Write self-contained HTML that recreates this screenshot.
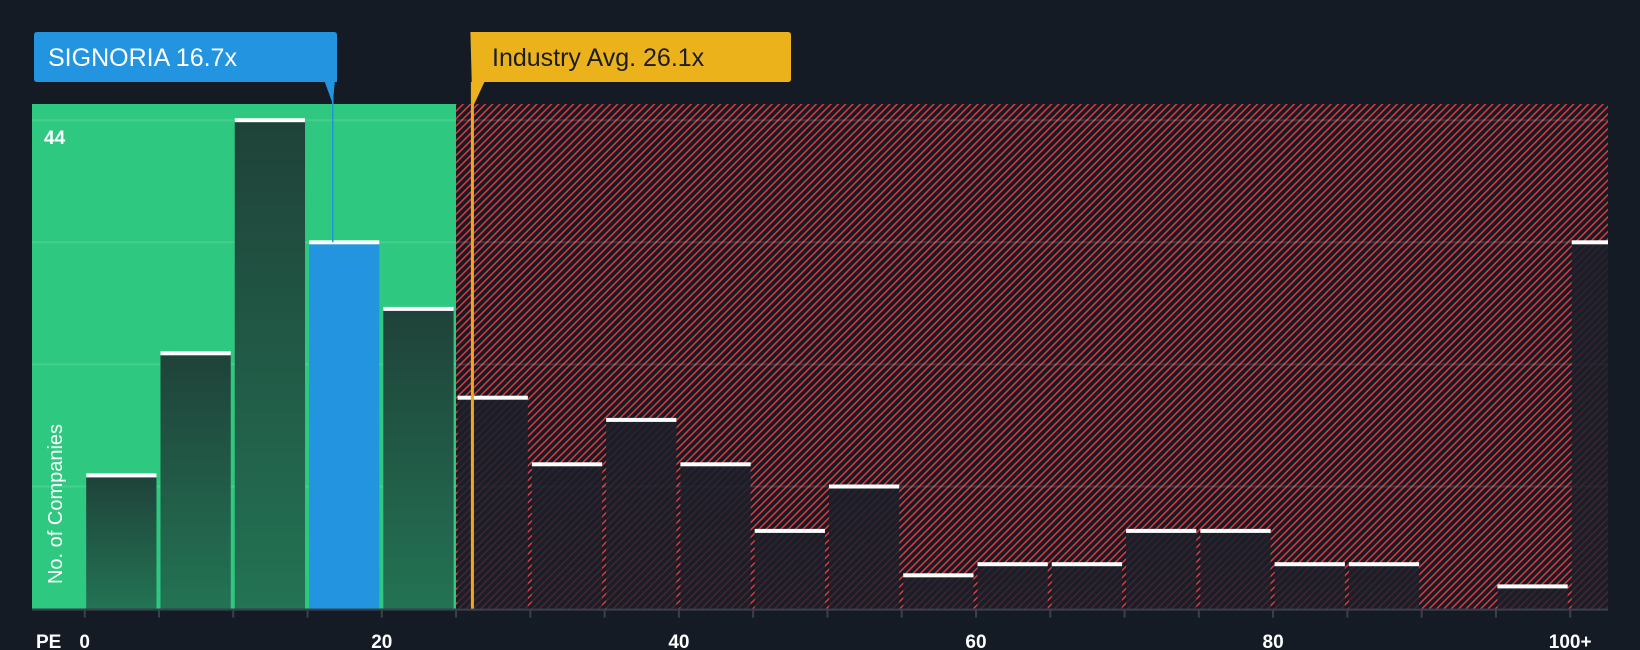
<!DOCTYPE html>
<html><head><meta charset="utf-8"><style>
html,body{margin:0;padding:0;background:#151b24;}
svg{display:block;font-family:"Liberation Sans",sans-serif;}
</style></head><body>
<svg id="chart" width="1640" height="650" viewBox="0 0 1640 650" xmlns="http://www.w3.org/2000/svg">
<defs>
<pattern id="hatch" patternUnits="userSpaceOnUse" width="5.2" height="5.2" patternTransform="rotate(45)">
<rect width="5.2" height="5.2" fill="#151b24"/>
<rect x="0" y="0" width="1.5" height="5.2" fill="#e0393e"/>
</pattern>
<linearGradient id="gbar" x1="0" y1="0" x2="0" y2="1"><stop offset="0" stop-color="#1f4239"/><stop offset="1" stop-color="#237354"/></linearGradient>
<linearGradient id="rbar" x1="0" y1="0" x2="0" y2="1"><stop offset="0" stop-color="#1b1f29" stop-opacity="0.9"/><stop offset="1" stop-color="#1b1f29" stop-opacity="0.75"/></linearGradient>
</defs>
<g id="bg"></g><g id="grid"></g><g id="bars"></g><g id="axis"></g><g id="ann"></g>
</svg>
<script>
const binStarts = [0,5,10,15,20,25,30,35,40,45,50,55,60,65,70,75,80,85,90,95,100];
const counts = [12,23,44,33,27,19,13,17,13,7,11,3,4,4,7,7,4,4,0,2,33];
const tickValues = [0,20,40,60,80,100];
const tickLabels = ["0","20","40","60","80","100+"];
const gridValues = [11,22,33,44];
const companyPE = 16.7;
const industryPE = 26.1;
const companyBin = 15;

const NS="http://www.w3.org/2000/svg";
const x0=84.7, pxPerUnit=14.855, baseY=608.6, pxPerCount=11.1;
const plotL=32, plotR=1608, plotT=104;
const X=v=>x0+v*pxPerUnit;
const Y=c=>baseY-c*pxPerCount;
function mk(tag,attrs,parent){const e=document.createElementNS(NS,tag);for(const k in attrs)e.setAttribute(k,attrs[k]);parent.appendChild(e);return e;}
const bg=document.getElementById('bg'),grid=document.getElementById('grid'),bars=document.getElementById('bars'),axis=document.getElementById('axis'),ann=document.getElementById('ann');

let r=mk('rect',{x:plotL,y:plotT,width:X(25)-plotL,height:baseY-plotT,fill:'#2ec880'},bg);


r=mk('rect',{x:X(25),y:plotT,width:plotR-X(25),height:baseY-plotT,fill:'url(#hatch)'},bg);



gridValues.forEach(g=>{const l=mk('line',{x1:plotL,x2:plotR,y1:Y(g),y2:Y(g),stroke:'rgba(255,255,255,0.12)','stroke-width':2},grid);

});

binStarts.forEach((b,i)=>{
  const c=counts[i]; const xl=X(b)+1.5, w=(b===100?plotR-X(b)-1.5:pxPerUnit*5-4);
  if(c<=0)return;
  let fill=b<25?'url(#gbar)':'url(#rbar)';
  if(b===companyBin)fill='#2394e0';
  const rect=mk('rect',{x:xl,y:Y(c),width:w,height:baseY-Y(c),fill:fill},bars);
  
  
  const cap=mk('rect',{x:xl,y:Y(c)-2,width:w,height:4,fill:'#ffffff'},bars);
  
  
});

let ax=mk('line',{x1:plotL,x2:plotR,y1:baseY+1,y2:baseY+1,stroke:'#3a414c','stroke-width':2},axis);


binStarts.forEach(b=>{const t=mk('line',{x1:X(b),x2:X(b),y1:baseY,y2:baseY+9,stroke:'#3a414c','stroke-width':2},axis);

});
tickValues.forEach((v,i)=>{const t=mk('text',{x:X(v),y:648,fill:'#ffffff','font-size':19,'font-weight':'bold','text-anchor':'middle'},axis);t.textContent=tickLabels[i];

});
let t=mk('text',{x:36,y:648,fill:'#ffffff','font-size':19,'font-weight':'bold'},axis);t.textContent='PE';


t=mk('text',{x:44,y:144,fill:'#ffffff','font-size':19,'font-weight':'bold'},axis);t.textContent='44';


t=mk('text',{x:0,y:0,fill:'#ffffff','font-size':20,'text-anchor':'middle',transform:'translate(62,504) rotate(-90)'},axis);t.textContent='No. of Companies';



const cx=X(companyPE);
let l=mk('line',{x1:cx,x2:cx,y1:82,y2:Y(counts[3]),stroke:'#2394e0','stroke-width':1.5},ann);


let p=mk('path',{d:`M34,35 Q34,32 37,32 L334,32 Q337,32 337,35 L337,82 L${cx+2},82 L${cx},104 L${cx-8},82 L37,82 Q34,82 34,79 Z`,fill:'#2394e0'},ann);


t=mk('text',{x:48,y:66,fill:'#ffffff','font-size':25},ann);t.textContent='SIGNORIA 16.7x';



const ix=X(industryPE);
l=mk('line',{x1:ix,x2:ix,y1:82,y2:baseY,stroke:'#f0a81c','stroke-width':3},ann);


p=mk('path',{d:`M${ix-2},32 L788,32 Q791,32 791,35 L791,79 Q791,82 788,82 L${ix+12},82 L${ix},108 Z`,fill:'#ebb21c'},ann);


t=mk('text',{x:492,y:66,fill:'#1a1d24','font-size':25},ann);t.textContent='Industry Avg. 26.1x';


</script>
</body></html>
